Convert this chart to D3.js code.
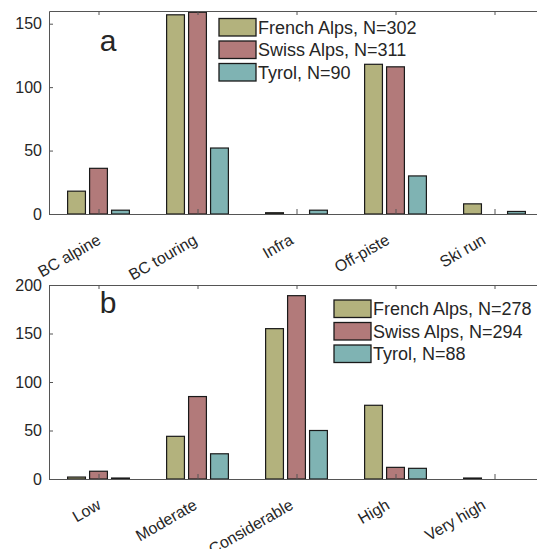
<!DOCTYPE html>
<html><head><meta charset="utf-8">
<script src="https://cdn.jsdelivr.net/npm/d3@7"></script>
<style>body{margin:0;background:#fff}svg{display:block}text{font-family:"Liberation Sans",Arial,sans-serif;fill:#262626}</style>
</head><body>
<svg id="c" width="537" height="549"></svg>
<script>
const seriesNames = ["French Alps", "Swiss Alps", "Tyrol"];
const colors = ["#b3b27d", "#b27a7a", "#7fb3b3"];

const catsA = ["BC alpine", "BC touring", "Infra", "Off-piste", "Ski run"];
const frenchA = [18, 157, 1, 118, 8];
const swissA = [36, 159, 0, 116, 0];
const tyrolA = [3, 52, 3, 30, 2];
const legendA = ["French Alps, N=302", "Swiss Alps, N=311", "Tyrol, N=90"];
const yTicksA = [0, 50, 100, 150];

const catsB = ["Low", "Moderate", "Considerable", "High", "Very high"];
const frenchB = [2, 44, 155, 76, 1];
const swissB = [8, 85, 189, 12, 0];
const tyrolB = [1, 26, 50, 11, 0];
const legendB = ["French Alps, N=278", "Swiss Alps, N=294", "Tyrol, N=88"];
const yTicksB = [0, 50, 100, 150, 200];

const svg = d3.select("#c");

function panel(cfg) {
  const g = svg.append("g");
  const x = d3.scaleLinear().domain([0.5, 5.5]).range([49, 544]);
  const y = d3.scaleLinear().domain([0, cfg.ymax]).range([cfg.bottom, cfg.top]);
  const clipId = "clip" + cfg.label;
  g.append("clipPath").attr("id", clipId).append("rect")
    .attr("x", 49).attr("y", cfg.top).attr("width", 500).attr("height", cfg.bottom - cfg.top);
  const series = [cfg.s1, cfg.s2, cfg.s3];
  const bw = 0.18, off = 0.222;
  const bars = g.append("g").attr("clip-path", `url(#${clipId})`);
  series.forEach((vals, si) => {
    bars.selectAll(null).data(vals).enter().append("rect")
      .attr("x", (d, i) => x(i + 1 + (si - 1) * off - bw / 2))
      .attr("width", x(bw) - x(0))
      .attr("y", d => y(d))
      .attr("height", d => cfg.bottom - y(d))
      .attr("fill", colors[si])
      .attr("stroke", "#1a1a1a").attr("stroke-width", 1.2);
  });
  const ac = "#555";
  const yAxis = d3.axisLeft(y).tickValues(cfg.yticks).tickSizeInner(-4).tickSizeOuter(0).tickPadding(7);
  const ya = g.append("g").attr("transform", "translate(49,0)").call(yAxis);
  ya.select(".domain").attr("stroke", ac);
  ya.selectAll(".tick line").attr("stroke", ac);
  ya.selectAll("text").attr("font-size", 16).attr("fill", "#262626").attr("font-family", '"Liberation Sans",Arial,sans-serif');
  const xAxis = d3.axisBottom(x).tickValues([1, 2, 3, 4, 5]).tickSizeInner(-5).tickSizeOuter(0).tickFormat(d => cfg.cats[d - 1]);
  const xa = g.append("g").attr("transform", `translate(0,${cfg.bottom})`).call(xAxis);
  xa.select(".domain").attr("stroke", ac);
  xa.selectAll(".tick line").attr("stroke", ac);
  xa.selectAll("text").attr("font-size", 16).attr("fill", "#262626")
    .attr("font-family", '"Liberation Sans",Arial,sans-serif')
    .attr("text-anchor", "end").attr("dy", null).attr("y", null)
    .attr("transform", (d, i) => `translate(${3 - 2.8 * i},29) rotate(-30)`);
  const xTop = d3.axisTop(x).tickValues([1, 2, 3, 4, 5]).tickSizeInner(-4).tickSizeOuter(0).tickFormat("");
  const xt = g.append("g").attr("transform", `translate(0,${cfg.top})`).call(xTop);
  xt.select(".domain").attr("stroke", ac);
  xt.selectAll(".tick line").attr("stroke", ac);
  g.append("text").attr("x", 108).attr("y", cfg.labelY).attr("text-anchor", "middle")
    .attr("font-size", 30).text(cfg.label);
  const lg = g.append("g");
  cfg.legend.forEach((t, i) => {
    lg.append("rect").attr("x", cfg.lx).attr("y", cfg.ly + i * 22.5).attr("width", 37).attr("height", 17.5)
      .attr("fill", colors[i]).attr("stroke", "#1a1a1a").attr("stroke-width", 1.3);
    lg.append("text").attr("x", cfg.lx + 39).attr("y", cfg.ly + i * 22.5 + 15.3).attr("font-size", 18).text(t);
  });
}

panel({label: "a", cats: catsA, s1: frenchA, s2: swissA, s3: tyrolA, ymax: 160, top: 11, bottom: 214,
  yticks: yTicksA, labelY: 51, legend: legendA, lx: 219, ly: 18.5});
panel({label: "b", cats: catsB, s1: frenchB, s2: swissB, s3: tyrolB, ymax: 200, top: 285, bottom: 479,
  yticks: yTicksB, labelY: 313, legend: legendB, lx: 334, ly: 300});
</script>
</body></html>
